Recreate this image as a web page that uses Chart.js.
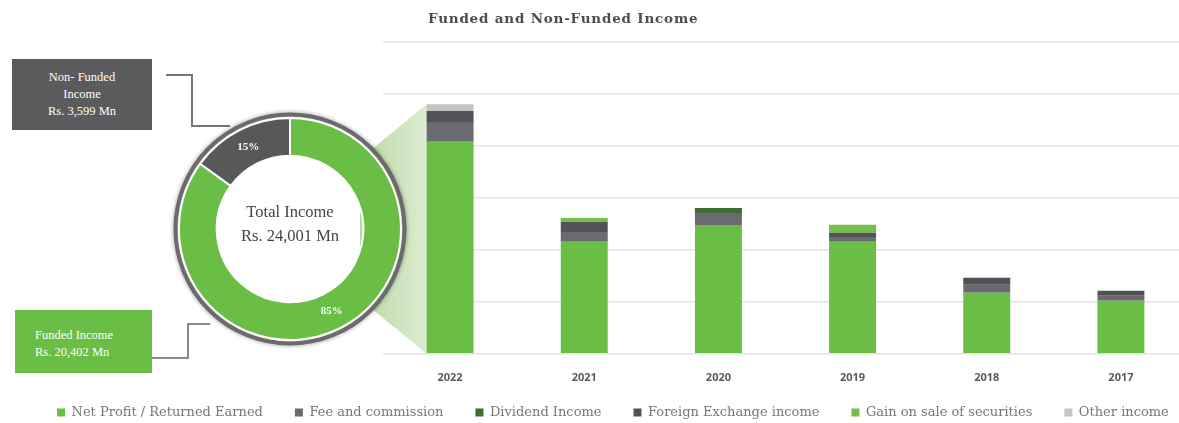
<!DOCTYPE html>
<html>
<head>
<meta charset="utf-8">
<script src="https://cdn.jsdelivr.net/npm/chart.js@4.4.1/dist/chart.umd.min.js"></script>
<style>
  html, body { margin: 0; padding: 0; background: #fff; overflow: hidden; width: 1179px; height: 423px; }
  #bar-wrap { position: absolute; left: 0; top: 0; width: 1220px; height: 423px; }
  #donut-wrap { position: absolute; left: 165px; top: 104px; width: 250px; height: 250px; }
  #links { position: absolute; left: 0; top: 0; }
  .title { position: absolute; left: 428px; top: 10px; font: bold 13.5px 'DejaVu Serif'; color: #4d4d4d; letter-spacing: 0.8px; }
  .callout { position: absolute; color: #fff; font: 12.5px 'Liberation Serif'; line-height: 17px; }
  #nonfunded-box { left: 12px; top: 59px; width: 140px; height: 71px; background: #5b5b5d; text-align: center; padding-top: 10px; box-sizing: border-box; }
  #funded-box { left: 15px; top: 310px; width: 137px; height: 63px; background: #6abd45; padding: 17px 0 0 20px; box-sizing: border-box; }
</style>
</head>
<body>
<div id="bar-wrap"><canvas id="barChart" width="1220" height="423"></canvas></div>
<svg id="links" width="420" height="423">
  <polyline points="166,75 192,75 192,126 230,126" fill="none" stroke="#767676" stroke-width="2"/>
  <polyline points="152,358 188,358 188,324 210,324" fill="none" stroke="#8a8a8a" stroke-width="2"/>
</svg>
<div id="donut-wrap"><canvas id="donutChart" width="250" height="250"></canvas></div>
<div class="title">Funded and Non-Funded Income</div>
<div class="callout" id="nonfunded-box"></div>
<div class="callout" id="funded-box"></div>

<script>
'use strict';

// ***** DATA *****
let years = ['2022', '2021', '2020', '2019', '2018', '2017'];

// Rs. Mn, stacked bottom to top
let netProfit = [20402, 10770, 12400, 10770, 5870, 5100];
let feeCommission = [1900, 960, 1150, 480, 770, 480];
let dividendIncome = [0, 0, 480, 0, 0, 0];
let fxIncome = [1050, 960, 0, 390, 670, 480];
let gainOnSecurities = [0, 380, 0, 770, 0, 0];
let otherIncome = [649, 0, 0, 0, 0, 0];

let seriesNames = ['Net Profit / Returned Earned', 'Fee and commission', 'Dividend Income',
  'Foreign Exchange income', 'Gain on sale of securities', 'Other income'];

// total income split for the ring
let incomeLabels = ['Funded Income', 'Non- Funded Income'];
let incomeSplit = [20402, 3599];

let yTicks = { min: 0, max: 30000, step: 5000 };

// ***** COLOURS *****
let seriesColors = ['#6abd45', '#6b6a70', '#3e6b2f', '#525257', '#72bf4c', '#c4c4c4'];
let ringColors = ['#6abd45', '#58585a'];

// ***** HELPERS *****
function fmt(n) {
  return n.toLocaleString('en-US');
}

const ringCenter = { x: 290, y: 229 };

// callout boxes beside the ring
document.getElementById('nonfunded-box').innerHTML = 'Non- Funded<br>Income<br>Rs. ' + fmt(incomeSplit[1]) + ' Mn';
document.getElementById('funded-box').innerHTML = 'Funded Income<br>Rs. ' + fmt(incomeSplit[0]) + ' Mn';

// light green "zoom" wedge from the ring out to the first bar
const wedgePlugin = {
  id: 'wedge',
  beforeDatasetsDraw(chart) {
    let meta = chart.getDatasetMeta(0);
    let bar = meta.data[0];
    let yScale = chart.scales.y;
    let total = 0;
    for (let i = 0; i < chart.data.datasets.length; i++) {
      total += chart.data.datasets[i].data[0];
    }
    let left = bar.x - bar.width / 2;
    let top = yScale.getPixelForValue(total);
    let base = yScale.getPixelForValue(0);
    let c = chart.ctx;
    let grad = c.createLinearGradient(ringCenter.x + 70, 0, left, 0);
    grad.addColorStop(0, '#b9d9a2');
    grad.addColorStop(1, '#dcecd0');
    c.save();
    c.fillStyle = grad;
    c.beginPath();
    c.moveTo(left, top);
    c.lineTo(left, base);
    c.lineTo(ringCenter.x + 70, ringCenter.y + 70);
    c.lineTo(ringCenter.x + 70, ringCenter.y - 70);
    c.closePath();
    c.fill();
    c.restore();
  }
};

// legend strip: short box at the bottom, its top pulled up so the items sit under the years
const legendPlacePlugin = {
  id: 'legendPlace',
  afterInit(chart) {
    const origFit = chart.legend.fit;
    chart.legend.fit = function () {
      origFit.call(this);
      this.height = 22;
    };
  },
  afterLayout(chart) {
    chart.legend.top -= 27;
  }
};

// ***** BAR CHART *****
let barDatasets = [];
let seriesData = [netProfit, feeCommission, dividendIncome, fxIncome, gainOnSecurities, otherIncome];
for (let i = 0; i < seriesData.length; i++) {
  barDatasets.push({
    label: seriesNames[i],
    data: seriesData[i],
    backgroundColor: seriesColors[i],
    borderWidth: 0,
    barPercentage: 0.35,
    categoryPercentage: 1
  });
}

const barCtx = document.getElementById('barChart').getContext('2d');
const barChart = new Chart(barCtx, { // eslint-disable-line
  type: 'bar',
  data: { labels: years, datasets: barDatasets },
  options: {
    responsive: false,
    animation: false,
    layout: { padding: { top: 42, left: 25, right: 0, bottom: 0 } },
    scales: {
      x: {
        stacked: true,
        grid: { display: false, drawTicks: false },
        border: { display: false },
        ticks: { padding: 17, color: '#5a5a5a', font: { family: 'Open Sans', size: 11, weight: 'bold' } }
      },
      y: {
        stacked: true,
        min: yTicks.min,
        max: yTicks.max,
        ticks: { stepSize: yTicks.step, display: false },
        grid: { color: '#e3e3e3', lineWidth: 1.5, drawTicks: false },
        border: { display: false },
        afterFit(axis) { axis.width = 358; }
      },
      // empty right-hand axis, only reserves the margin past the last bar
      yRight: {
        position: 'right',
        ticks: { display: false },
        grid: { display: false, drawTicks: false },
        border: { display: false },
        afterFit(axis) { axis.width = 32; }
      }
    },
    plugins: {
      legend: {
        position: 'bottom',
        align: 'start',
        labels: {
          boxWidth: 8,
          boxHeight: 8,
          padding: 32,
          color: '#777',
          font: { family: 'DejaVu Serif', size: 13 }
        }
      },
      tooltip: { enabled: false }
    }
  },
  plugins: [wedgePlugin, legendPlacePlugin]
});

// ***** RING CHART *****
const ringPlugin = {
  id: 'ringText',
  beforeDatasetsDraw(chart) {
    let arc = chart.getDatasetMeta(0).data[0];
    let c = chart.ctx;
    c.save();
    c.shadowColor = 'rgba(0,0,0,0.4)';
    c.shadowBlur = 4;
    c.strokeStyle = '#6b6b6b';
    c.lineWidth = 4;
    c.beginPath();
    c.arc(arc.x, arc.y, arc.outerRadius + 3.5, 0, Math.PI * 2);
    c.stroke();
    c.restore();
  },
  afterDatasetsDraw(chart) {
    let c = chart.ctx;
    let data = chart.data.datasets[0].data;
    let total = data.reduce((a, b) => a + b, 0);
    let meta = chart.getDatasetMeta(0);
    c.save();
    c.textAlign = 'center';
    c.textBaseline = 'middle';
    c.fillStyle = '#fff';
    c.font = 'bold 11px "Liberation Serif"';
    for (let i = 0; i < meta.data.length; i++) {
      let pos = meta.data[i].tooltipPosition();
      c.fillText(Math.round(data[i] / total * 100) + '%', pos.x, pos.y);
    }
    let arc = meta.data[0];
    c.fillStyle = '#444';
    c.font = '16.5px "Liberation Serif"';
    c.fillText('Total Income', arc.x, arc.y - 16);
    c.fillText('Rs. ' + fmt(total) + ' Mn', arc.x, arc.y + 8);
    c.restore();
  }
};

const donutCtx = document.getElementById('donutChart').getContext('2d');
const donutChart = new Chart(donutCtx, { // eslint-disable-line
  type: 'doughnut',
  data: {
    labels: incomeLabels,
    datasets: [{
      data: incomeSplit,
      backgroundColor: ringColors,
      borderColor: '#fff',
      borderWidth: 2
    }]
  },
  options: {
    responsive: false,
    animation: false,
    radius: 111,
    cutout: '66%',
    plugins: { legend: { display: false }, tooltip: { enabled: false } }
  },
  plugins: [ringPlugin]
});
</script>
</body>
</html>
